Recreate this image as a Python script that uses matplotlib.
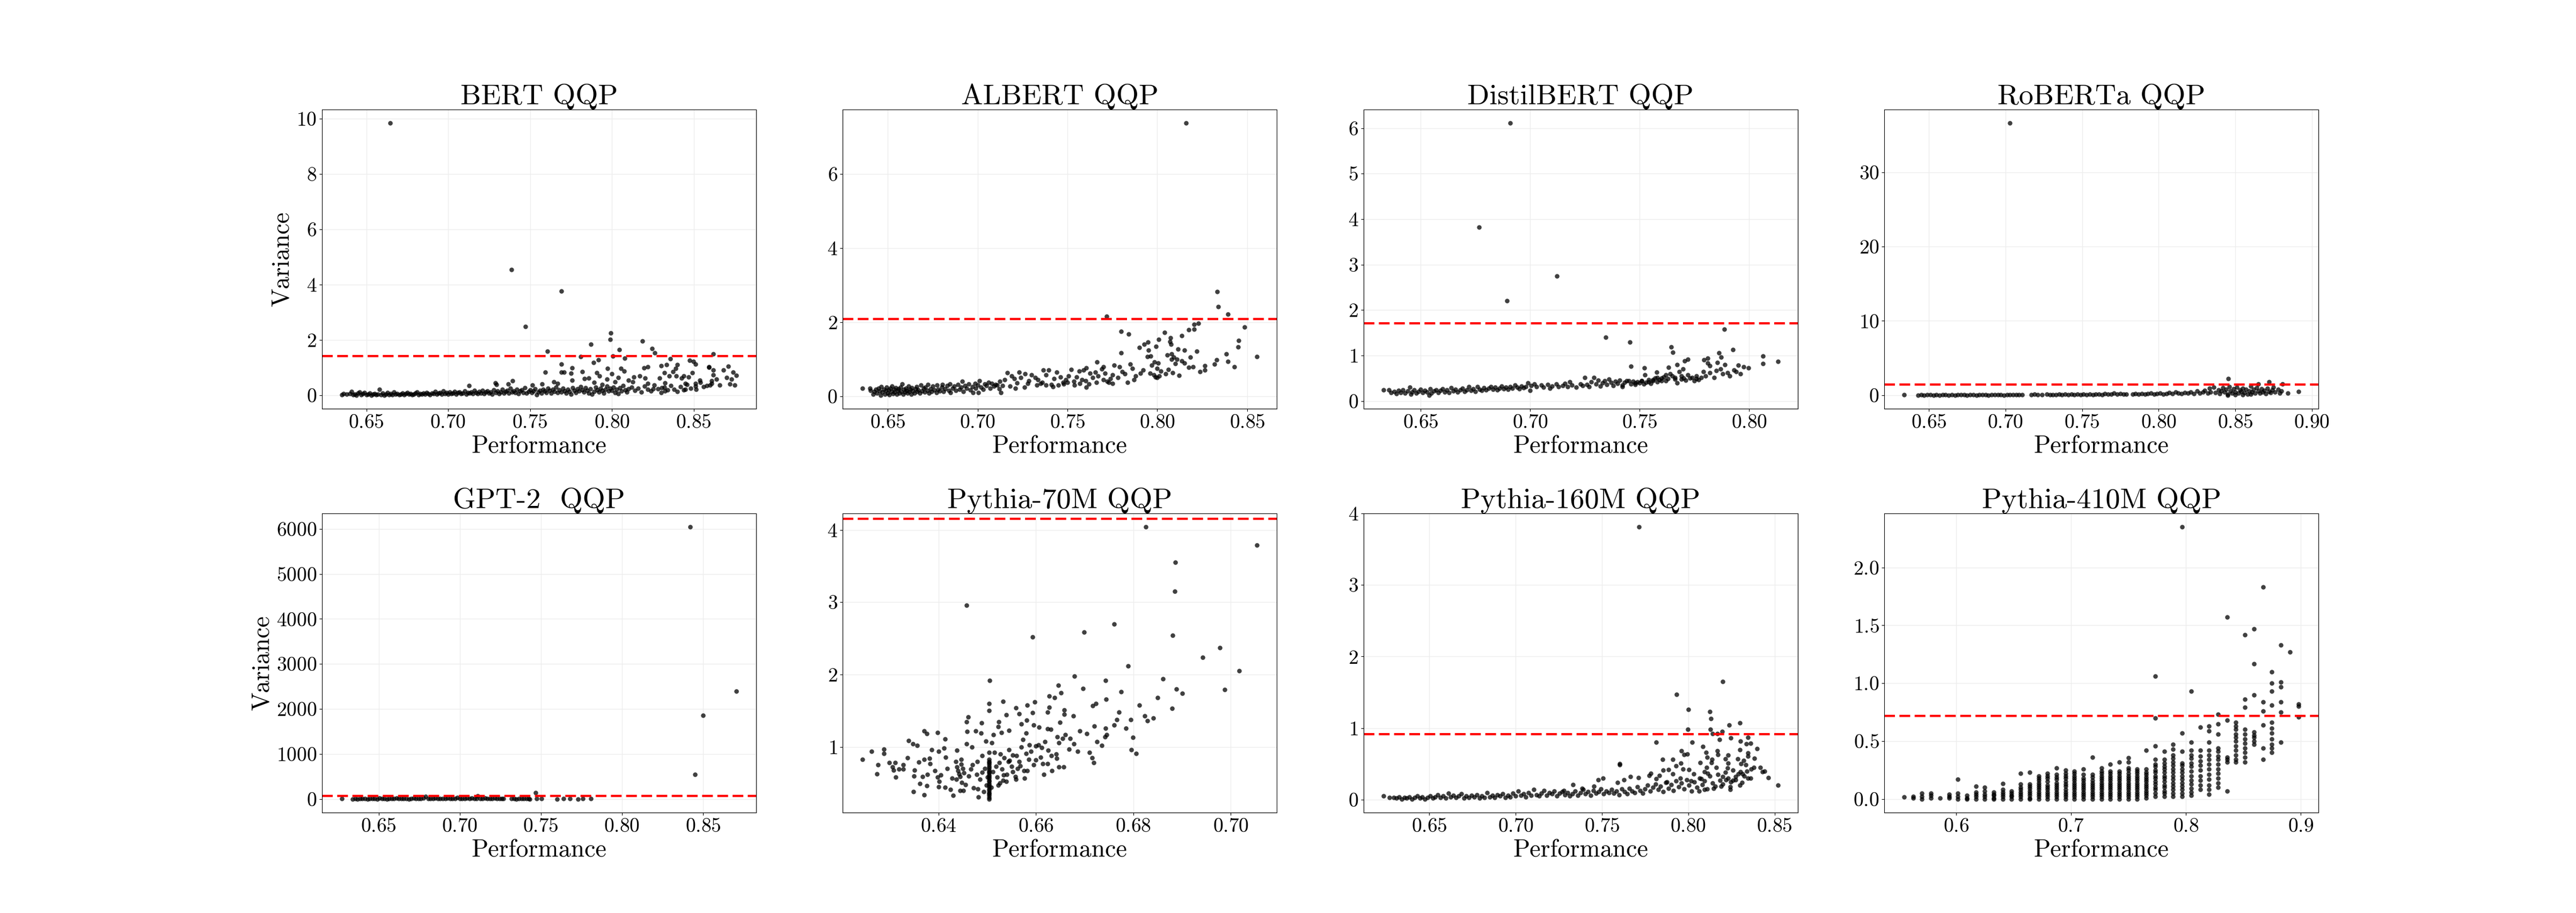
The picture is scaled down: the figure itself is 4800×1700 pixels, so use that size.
import matplotlib.pyplot as plt

plt.rcParams['font.family'] = 'cmr10'
plt.rcParams['mathtext.fontset'] = 'cm'
plt.rcParams['axes.formatter.use_mathtext'] = True

titles = ["BERT QQP", "ALBERT QQP", "DistilBERT QQP", "RoBERTa QQP",
          "GPT-2  QQP", "Pythia-70M QQP", "Pythia-160M QQP", "Pythia-410M QQP"]

# red dashed threshold per panel
thresholds = [1.42, 2.09, 1.71, 1.43, 70, 4.15, 0.916, 0.72]

# (performance, variance)
bert_pts = [
    (0.6645, 9.83), (0.7387, 4.54), (0.7693, 3.76), (0.7472, 2.48), (0.7993, 2.25), (0.7990, 2.03),
    (0.8188, 1.96), (0.7871, 1.84), (0.8245, 1.69), (0.8263, 1.54), (0.7605, 1.59), (0.8046, 1.65),
    (0.8620, 1.50), (0.7810, 1.40), (0.8007, 1.42), (0.7918, 1.28), (0.7887, 1.18), (0.8078, 1.34),
    (0.8356, 1.32), (0.8474, 1.27), (0.8497, 1.22), (0.8510, 1.13), (0.7693, 1.12), (0.8593, 1.04),
    (0.8712, 1.06), (0.7758, 0.99),
    (0.8196, 1.00), (0.8219, 1.04), (0.8300, 1.08), (0.8333, 1.11), (0.8399, 1.10), (0.8390, 0.97),
    (0.8374, 0.85), (0.8394, 0.70), (0.8440, 0.70), (0.8493, 0.81), (0.8592, 1.02), (0.8619, 0.91),
    (0.8620, 0.74), (0.8610, 0.53), (0.8600, 0.37), (0.8538, 0.55), (0.8510, 0.43), (0.8513, 0.22),
    (0.8559, 0.31), (0.8450, 0.43), (0.8450, 0.22), (0.8470, 0.67), (0.8426, 0.62), (0.8350, 0.70),
    (0.8320, 0.81), (0.8292, 0.62), (0.8325, 0.45), (0.8304, 0.28), (0.8325, 0.16), (0.8251, 0.24),
    (0.8219, 0.43), (0.8203, 0.62), (0.8170, 0.70), (0.8134, 0.66), (0.8129, 0.48), (0.8100, 0.55),
    (0.8075, 0.87), (0.8056, 0.97), (0.8039, 0.64), (0.8020, 0.48), (0.8000, 0.78), (0.7974, 0.97),
    (0.7970, 0.58), (0.7941, 0.39), (0.7909, 0.81), (0.7925, 0.70), (0.7890, 0.47), (0.7860, 0.62),
    (0.7833, 0.60), (0.7820, 0.85), (0.7750, 0.80), (0.7709, 0.84), (0.7693, 0.84), (0.7758, 0.54),
    (0.7592, 0.84), (0.7647, 0.48), (0.7667, 0.43), (0.7574, 0.41), (0.7516, 0.37), (0.7394, 0.53),
    (0.7366, 0.41), (0.7296, 0.39), (0.7288, 0.45), (0.7129, 0.35),
    (0.635, 0.03), (0.636, 0.06), (0.638, 0.04), (0.640, 0.07), (0.641, 0.14), (0.642, 0.02),
    (0.643, 0.05), (0.644, 0.01), (0.645, 0.08), (0.646, 0.13), (0.647, 0.03), (0.648, 0.06),
    (0.649, 0.11), (0.650, 0.02), (0.651, 0.05), (0.652, 0.09), (0.653, 0.01), (0.654, 0.04),
    (0.655, 0.07), (0.656, 0.02), (0.657, 0.05), (0.658, 0.21), (0.659, 0.03), (0.660, 0.08),
    (0.661, 0.01), (0.662, 0.05), (0.663, 0.10), (0.664, 0.03), (0.665, 0.06), (0.666, 0.02),
    (0.667, 0.12), (0.668, 0.04), (0.669, 0.07), (0.670, 0.02), (0.671, 0.05), (0.672, 0.09),
    (0.673, 0.03), (0.674, 0.06), (0.675, 0.11), (0.676, 0.04), (0.677, 0.07), (0.678, 0.02),
    (0.679, 0.05), (0.680, 0.08), (0.681, 0.13), (0.682, 0.03), (0.683, 0.06), (0.684, 0.04),
    (0.685, 0.09), (0.686, 0.05), (0.687, 0.11), (0.688, 0.07), (0.689, 0.03), (0.690, 0.09),
    (0.691, 0.06), (0.692, 0.14), (0.693, 0.04), (0.694, 0.08), (0.695, 0.11), (0.696, 0.05),
    (0.697, 0.15), (0.698, 0.07), (0.699, 0.10), (0.700, 0.04), (0.701, 0.12), (0.702, 0.07),
    (0.703, 0.09), (0.704, 0.14), (0.705, 0.05), (0.706, 0.10), (0.707, 0.13), (0.708, 0.06),
    (0.709, 0.09), (0.710, 0.15), (0.711, 0.04), (0.712, 0.11), (0.713, 0.08), (0.714, 0.13),
    (0.715, 0.06), (0.716, 0.17), (0.717, 0.10), (0.718, 0.07), (0.719, 0.14), (0.720, 0.09),
    (0.721, 0.18), (0.722, 0.06), (0.723, 0.12), (0.724, 0.16), (0.725, 0.08), (0.726, 0.13),
    (0.727, 0.05), (0.728, 0.19), (0.729, 0.10), (0.730, 0.15), (0.731, 0.07), (0.732, 0.12),
    (0.733, 0.21), (0.734, 0.09), (0.735, 0.14), (0.736, 0.18), (0.737, 0.08), (0.738, 0.25),
    (0.739, 0.12), (0.740, 0.16), (0.741, 0.10), (0.742, 0.22), (0.743, 0.07), (0.744, 0.15),
    (0.745, 0.19), (0.746, 0.11), (0.747, 0.27), (0.748, 0.08), (0.749, 0.14), (0.750, 0.20),
    (0.751, 0.10), (0.752, 0.16), (0.753, 0.24), (0.754, 0.03), (0.755, 0.13), (0.756, 0.18),
    (0.757, 0.09), (0.758, 0.22), (0.759, 0.15), (0.760, 0.11), (0.761, 0.26), (0.762, 0.17),
    (0.763, 0.08), (0.764, 0.21), (0.765, 0.14), (0.766, 0.30), (0.767, 0.10), (0.768, 0.19),
    (0.769, 0.13), (0.770, 0.25), (0.771, 0.16), (0.772, 0.09), (0.773, 0.22), (0.774, 0.14),
    (0.775, 0.05), (0.776, 0.28), (0.777, 0.18), (0.778, 0.11), (0.779, 0.24), (0.780, 0.15),
    (0.781, 0.32), (0.782, 0.20), (0.783, 0.12), (0.784, 0.27), (0.785, 0.17), (0.786, 0.09),
    (0.787, 0.23), (0.788, 0.05), (0.789, 0.14), (0.790, 0.30), (0.791, 0.19), (0.792, 0.12),
    (0.793, 0.26), (0.794, 0.17), (0.795, 0.08), (0.796, 0.22), (0.797, 0.33), (0.798, 0.15),
    (0.799, 0.25), (0.800, 0.18), (0.801, 0.29), (0.802, 0.11), (0.803, 0.22), (0.804, 0.06),
    (0.805, 0.27), (0.806, 0.16), (0.807, 0.35), (0.808, 0.20), (0.809, 0.13), (0.810, 0.24),
    (0.812, 0.30), (0.814, 0.18), (0.816, 0.26), (0.818, 0.12), (0.820, 0.33), (0.822, 0.21),
    (0.824, 0.15), (0.826, 0.38), (0.828, 0.24), (0.830, 0.10), (0.832, 0.29), (0.834, 0.19),
    (0.836, 0.35), (0.838, 0.22), (0.840, 0.14), (0.842, 0.31), (0.844, 0.20), (0.846, 0.40),
    (0.848, 0.26), (0.851, 0.33), (0.854, 0.47), (0.858, 0.36), (0.861, 0.44), (0.864, 0.58),
    (0.866, 0.38), (0.868, 0.92), (0.870, 0.65), (0.872, 0.42), (0.873, 0.58), (0.874, 0.84),
    (0.875, 0.38), (0.876, 0.72),
]

albert_pts = [
    (0.8159, 7.37), (0.8334, 2.83), (0.8340, 2.42), (0.8393, 2.22), (0.7718, 2.15), (0.8485, 1.87),
    (0.8227, 1.97), (0.8204, 1.94), (0.8174, 1.79), (0.8204, 1.81), (0.7800, 1.75), (0.7839, 1.68),
    (0.8040, 1.72), (0.8135, 1.63), (0.8009, 1.54), (0.8073, 1.57), (0.7948, 1.46), (0.7927, 1.40),
    (0.8451, 1.50), (0.8450, 1.33), (0.7899, 1.31), (0.7994, 1.35), (0.8076, 1.40), (0.8071, 1.47),
    (0.7951, 1.25), (0.8114, 1.27), (0.8150, 1.24), (0.8220, 1.21), (0.7800, 1.17), (0.8385, 1.14),
    (0.7946, 1.07), (0.7962, 1.09), (0.8555, 1.07), (0.8054, 1.11), (0.8080, 1.14), (0.8090, 1.05),
    (0.8080, 1.00), (0.8393, 0.94), (0.8330, 0.98), (0.8317, 0.87), (0.8429, 0.80), (0.8263, 0.82),
    (0.8237, 0.67), (0.8264, 0.71), (0.7665, 0.93),
    (0.8185, 1.05), (0.8200, 0.80), (0.8175, 0.78), (0.8150, 0.90), (0.8135, 0.96), (0.8110, 1.00),
    (0.8100, 0.88), (0.8060, 0.72), (0.8045, 0.60), (0.8020, 0.68), (0.8000, 0.75), (0.8005, 0.90),
    (0.7985, 0.93), (0.7970, 0.84), (0.7980, 0.57), (0.7990, 0.52), (0.8010, 0.55), (0.8085, 0.63),
    (0.8120, 0.56), (0.8000, 0.50), (0.7960, 0.62), (0.7920, 0.70), (0.7905, 0.62), (0.7880, 0.55),
    (0.7860, 0.75), (0.7850, 0.86), (0.7870, 0.45), (0.7835, 0.38), (0.7820, 0.60), (0.7805, 0.66),
    (0.7790, 0.80), (0.7760, 0.84), (0.7750, 0.58), (0.7740, 0.48), (0.7730, 0.38), (0.7710, 0.62),
    (0.7700, 0.79), (0.7690, 0.74), (0.7670, 0.55), (0.7655, 0.65), (0.7640, 0.50), (0.7625, 0.62),
    (0.7605, 0.76), (0.7605, 0.25), (0.7590, 0.71), (0.7580, 0.45), (0.7565, 0.68), (0.7550, 0.52),
    (0.7535, 0.40), (0.7520, 0.72), (0.7505, 0.55), (0.7490, 0.44), (0.7475, 0.38), (0.7460, 0.52),
    (0.7440, 0.65), (0.7425, 0.48), (0.7410, 0.32), (0.7395, 0.70), (0.7380, 0.58), (0.7365, 0.70),
    (0.7350, 0.35), (0.7335, 0.44), (0.7320, 0.50), (0.7300, 0.58), (0.7285, 0.42), (0.7265, 0.60),
    (0.7240, 0.50), (0.7230, 0.65), (0.7220, 0.36), (0.7205, 0.48), (0.7190, 0.55), (0.7165, 0.64),
    (0.7150, 0.45), (0.7140, 0.28), (0.7130, 0.10), (0.7125, 0.40), (0.7100, 0.32),
    (0.6360, 0.21), (0.6400, 0.22), (0.6405, 0.16), (0.6420, 0.05), (0.6425, 0.12), (0.6435, 0.18),
    (0.6440, 0.08), (0.6450, 0.22), (0.6455, 0.14), (0.6460, 0.03), (0.6465, 0.26), (0.6470, 0.11),
    (0.6480, 0.19), (0.6485, 0.06), (0.6490, 0.15), (0.6495, 0.24), (0.6500, 0.09), (0.6505, 0.17),
    (0.6510, 0.04), (0.6515, 0.21), (0.6520, 0.13), (0.6525, 0.27), (0.6530, 0.07), (0.6535, 0.18),
    (0.6540, 0.11), (0.6545, 0.23), (0.6550, 0.05), (0.6555, 0.15), (0.6560, 0.20), (0.6565, 0.09),
    (0.6570, 0.25), (0.6575, 0.13), (0.6580, 0.33), (0.6585, 0.06), (0.6590, 0.18), (0.6595, 0.11),
    (0.6600, 0.22), (0.6605, 0.15), (0.6610, 0.08), (0.6615, 0.27), (0.6620, 0.12), (0.6625, 0.19),
    (0.6630, 0.05), (0.6635, 0.23), (0.6640, 0.14), (0.6650, 0.09), (0.6655, 0.20), (0.6660, 0.26),
    (0.6665, 0.12), (0.6670, 0.17), (0.6680, 0.08), (0.6685, 0.30), (0.6690, 0.14), (0.6700, 0.21),
    (0.6705, 0.11), (0.6710, 0.25), (0.6720, 0.16), (0.6725, 0.32), (0.6730, 0.09), (0.6740, 0.20),
    (0.6745, 0.13), (0.6750, 0.27), (0.6760, 0.17), (0.6770, 0.10), (0.6775, 0.30), (0.6780, 0.19),
    (0.6790, 0.14), (0.6800, 0.24), (0.6805, 0.31), (0.6810, 0.12), (0.6820, 0.20), (0.6830, 0.28),
    (0.6840, 0.16), (0.6845, 0.33), (0.6850, 0.10), (0.6860, 0.22), (0.6870, 0.27), (0.6880, 0.15),
    (0.6890, 0.31), (0.6900, 0.19), (0.6910, 0.24), (0.6915, 0.40), (0.6920, 0.13), (0.6930, 0.28),
    (0.6940, 0.21), (0.6950, 0.33), (0.6960, 0.17), (0.6970, 0.26), (0.6975, 0.10), (0.6985, 0.35),
    (0.6990, 0.22), (0.7000, 0.30), (0.7005, 0.10), (0.7010, 0.42), (0.7020, 0.25), (0.7030, 0.18),
    (0.7040, 0.33), (0.7050, 0.28), (0.7060, 0.38), (0.7070, 0.22), (0.7080, 0.35), (0.7090, 0.27),
    (0.7110, 0.30), (0.7120, 0.20),
    (0.7450, 0.30), (0.7480, 0.33), (0.7500, 0.38), (0.7540, 0.30), (0.7570, 0.35), (0.7600, 0.42),
    (0.7620, 0.33), (0.7660, 0.38), (0.7700, 0.45), (0.7720, 0.40), (0.7750, 0.35), (0.7780, 0.50),
    (0.7420, 0.26), (0.7380, 0.30), (0.7360, 0.38), (0.7330, 0.30), (0.7280, 0.34), (0.7260, 0.25),
    (0.7210, 0.22), (0.7180, 0.27),
]

distil_pts = [
    (0.6910, 6.11), (0.6768, 3.82), (0.7123, 2.75), (0.6895, 2.21), (0.7886, 1.58), (0.7344, 1.40),
    (0.7455, 1.29), (0.7644, 1.19), (0.7652, 1.07), (0.7925, 1.13), (0.8062, 0.99), (0.8062, 0.82),
    (0.8131, 0.87), (0.7862, 1.06), (0.7873, 0.97), (0.7793, 0.90), (0.7810, 0.94), (0.7810, 0.84),
    (0.7820, 0.78), (0.7720, 0.92), (0.7705, 0.88), (0.7855, 0.85), (0.7890, 0.80), (0.7950, 0.79),
    (0.7975, 0.75), (0.7997, 0.73), (0.7460, 0.76), (0.7521, 0.73), (0.7632, 0.74), (0.7670, 0.80),
    (0.7698, 0.70), (0.7525, 0.58), (0.7577, 0.63),
    (0.7600, 0.50), (0.7620, 0.58), (0.7640, 0.60), (0.7660, 0.48), (0.7680, 0.65), (0.7690, 0.55),
    (0.7700, 0.50), (0.7720, 0.58), (0.7740, 0.52), (0.7760, 0.55), (0.7770, 0.47), (0.7790, 0.65),
    (0.7800, 0.55), (0.7820, 0.62), (0.7840, 0.52), (0.7850, 0.67), (0.7870, 0.70), (0.7880, 0.60),
    (0.7900, 0.62), (0.7910, 0.55), (0.7930, 0.68), (0.7940, 0.65), (0.7960, 0.60), (0.7670, 0.40),
    (0.7750, 0.45), (0.7620, 0.45), (0.7580, 0.52), (0.7560, 0.47), (0.7540, 0.42), (0.7510, 0.45),
    (0.7480, 0.40), (0.7440, 0.45), (0.7420, 0.35),
    (0.6330, 0.25), (0.6355, 0.24), (0.6365, 0.18), (0.6380, 0.21), (0.6390, 0.16), (0.6400, 0.23),
    (0.6410, 0.19), (0.6420, 0.25), (0.6430, 0.17), (0.6440, 0.22), (0.6450, 0.30), (0.6455, 0.15),
    (0.6460, 0.20), (0.6470, 0.24), (0.6480, 0.17), (0.6490, 0.21), (0.6500, 0.26), (0.6510, 0.18),
    (0.6520, 0.23), (0.6530, 0.20), (0.6540, 0.13), (0.6545, 0.27), (0.6550, 0.17), (0.6560, 0.22),
    (0.6570, 0.25), (0.6580, 0.19), (0.6590, 0.23), (0.6600, 0.27), (0.6610, 0.20), (0.6620, 0.24),
    (0.6630, 0.18), (0.6640, 0.29), (0.6650, 0.22), (0.6660, 0.26), (0.6670, 0.20), (0.6680, 0.24),
    (0.6690, 0.28), (0.6700, 0.21), (0.6710, 0.25), (0.6720, 0.31), (0.6730, 0.23), (0.6740, 0.27),
    (0.6750, 0.21), (0.6760, 0.31), (0.6770, 0.26), (0.6780, 0.23), (0.6790, 0.29), (0.6800, 0.25),
    (0.6810, 0.28), (0.6820, 0.32), (0.6830, 0.26), (0.6840, 0.30), (0.6850, 0.24), (0.6860, 0.28),
    (0.6870, 0.33), (0.6880, 0.27), (0.6890, 0.30), (0.6900, 0.26), (0.6910, 0.32), (0.6920, 0.28),
    (0.6930, 0.35), (0.6940, 0.30), (0.6950, 0.27), (0.6960, 0.33), (0.6970, 0.29), (0.6980, 0.31),
    (0.6990, 0.40), (0.7000, 0.23), (0.7005, 0.34), (0.7020, 0.38), (0.7030, 0.31), (0.7050, 0.35),
    (0.7060, 0.30), (0.7080, 0.36), (0.7090, 0.28), (0.7100, 0.33), (0.7120, 0.37), (0.7130, 0.31),
    (0.7150, 0.34), (0.7160, 0.39), (0.7170, 0.32), (0.7180, 0.42), (0.7190, 0.35), (0.7210, 0.30),
    (0.7230, 0.38), (0.7240, 0.34), (0.7250, 0.52), (0.7260, 0.36), (0.7270, 0.31), (0.7280, 0.42),
    (0.7290, 0.52), (0.7300, 0.37), (0.7310, 0.46), (0.7320, 0.33), (0.7330, 0.40), (0.7340, 0.44),
    (0.7350, 0.36), (0.7360, 0.48), (0.7370, 0.41), (0.7380, 0.34), (0.7390, 0.43), (0.7400, 0.39),
    (0.7410, 0.46), (0.7420, 0.32), (0.7430, 0.41), (0.7450, 0.45), (0.7460, 0.38), (0.7470, 0.43),
    (0.7480, 0.36), (0.7490, 0.42), (0.7500, 0.40), (0.7510, 0.44), (0.7520, 0.37), (0.7530, 0.41),
    (0.7540, 0.47), (0.7550, 0.39), (0.7560, 0.44), (0.7570, 0.50), (0.7580, 0.42), (0.7590, 0.47),
    (0.7600, 0.45), (0.7610, 0.53), (0.7630, 0.49), (0.7650, 0.55), (0.7660, 0.52), (0.7690, 0.48),
    (0.7710, 0.46), (0.7730, 0.50), (0.7760, 0.49), (0.7780, 0.52),
]

roberta_pts = [
    (0.6339, 0.05), (0.7030, 36.6), (0.8455, 2.26), (0.8722, 1.83), (0.8808, 1.51), (0.8650, 1.50),
    (0.8914, 0.49), (0.8844, 0.31),
    (0.6430, 0.02), (0.6450, 0.05), (0.6470, 0.01), (0.6490, 0.03), (0.6510, 0.06), (0.6530, 0.02),
    (0.6550, 0.04), (0.6570, 0.01), (0.6590, 0.05), (0.6610, 0.03), (0.6630, 0.02), (0.6650, 0.06),
    (0.6670, 0.01), (0.6690, 0.04), (0.6710, 0.03), (0.6730, 0.05), (0.6750, 0.02), (0.6770, 0.04),
    (0.6790, 0.07), (0.6810, 0.02), (0.6830, 0.05), (0.6850, 0.03), (0.6870, 0.06), (0.6890, 0.02),
    (0.6910, 0.04), (0.6930, 0.08), (0.6950, 0.03), (0.6970, 0.05), (0.6990, 0.02), (0.7010, 0.06),
    (0.7030, 0.04), (0.7050, 0.07), (0.7070, 0.03), (0.7090, 0.05), (0.7110, 0.08),
    (0.7170, 0.06), (0.7190, 0.10), (0.7210, 0.05), (0.7240, 0.08), (0.7270, 0.12), (0.7290, 0.06),
    (0.7310, 0.09), (0.7330, 0.05), (0.7350, 0.11), (0.7370, 0.07), (0.7390, 0.10), (0.7410, 0.06),
    (0.7430, 0.13), (0.7450, 0.08), (0.7470, 0.11), (0.7490, 0.05), (0.7510, 0.14), (0.7530, 0.09),
    (0.7550, 0.12), (0.7570, 0.07), (0.7590, 0.15), (0.7610, 0.10), (0.7630, 0.08), (0.7650, 0.17),
    (0.7670, 0.11), (0.7690, 0.14), (0.7710, 0.30), (0.7730, 0.12), (0.7750, 0.18), (0.7770, 0.10),
    (0.7790, 0.16), (0.7830, 0.12), (0.7850, 0.20), (0.7870, 0.14), (0.7890, 0.22), (0.7910, 0.11),
    (0.7930, 0.18), (0.7950, 0.25), (0.7970, 0.15), (0.7990, 0.20), (0.8010, 0.28), (0.8030, 0.14),
    (0.8050, 0.24), (0.8070, 0.33), (0.8090, 0.18), (0.8110, 0.42), (0.8130, 0.26), (0.8150, 0.20),
    (0.8170, 0.35), (0.8190, 0.28), (0.8210, 0.45), (0.8230, 0.22), (0.8250, 0.55), (0.8270, 0.30),
    (0.8290, 0.40), (0.8300, 0.65), (0.8320, 0.25), (0.8330, 0.90), (0.8340, 0.45), (0.8360, 1.05),
    (0.8370, 0.35), (0.8390, 0.70), (0.8400, 0.20), (0.8410, 0.55), (0.8420, 1.00), (0.8430, 0.40),
    (0.8440, 0.75), (0.8450, 0.15), (0.8460, 1.15), (0.8470, 0.60), (0.8480, 0.30), (0.8490, 0.85),
    (0.8500, 0.45), (0.8510, 1.10), (0.8520, 0.25), (0.8530, 0.70), (0.8540, 0.50), (0.8550, 0.95),
    (0.8560, 0.35), (0.8570, 0.80), (0.8580, 0.15), (0.8590, 0.60), (0.8600, 1.20), (0.8610, 0.40),
    (0.8620, 0.75), (0.8630, 0.25), (0.8640, 1.00), (0.8650, 0.55), (0.8660, 0.30), (0.8670, 0.85),
    (0.8680, 0.45), (0.8690, 0.65), (0.8700, 0.20), (0.8710, 0.95), (0.8720, 0.50), (0.8730, 0.35),
    (0.8740, 0.70), (0.8750, 1.05), (0.8760, 0.40), (0.8780, 0.80), (0.8790, 0.30), (0.8800, 0.55),
    (0.8600, 0.10), (0.8550, 0.05), (0.8500, 0.08), (0.8450, 0.02),
]

gpt2_pts = [
    (0.8419, 6040), (0.8705, 2390), (0.8500, 1855), (0.8452, 545), (0.7468, 142), (0.6272, 5),
    (0.6340, 4), (0.6355, 8), (0.6370, 2), (0.6385, 12), (0.6400, 5), (0.6415, 9), (0.6430, 3),
    (0.6445, 15), (0.6460, 6), (0.6475, 10), (0.6490, 4), (0.6505, 18), (0.6520, 7), (0.6535, 11),
    (0.6550, 3), (0.6565, 14), (0.6580, 6), (0.6595, 9), (0.6610, 20), (0.6625, 5), (0.6640, 12),
    (0.6655, 8), (0.6670, 16), (0.6685, 4), (0.6700, 10), (0.6715, 22), (0.6730, 7), (0.6745, 13),
    (0.6760, 5), (0.6775, 18), (0.6790, 60), (0.6805, 9), (0.6820, 14), (0.6835, 6), (0.6850, 25),
    (0.6865, 11), (0.6880, 8), (0.6895, 16), (0.6910, 5), (0.6925, 20), (0.6940, 10), (0.6955, 7),
    (0.6970, 14), (0.6985, 30), (0.7000, 9), (0.7015, 12), (0.7030, 6), (0.7045, 18), (0.7060, 10),
    (0.7075, 25), (0.7090, 8), (0.7105, 15), (0.7110, 70), (0.7125, 11), (0.7140, 6), (0.7155, 19),
    (0.7170, 9), (0.7185, 14), (0.7200, 7), (0.7215, 20), (0.7230, 10), (0.7245, 5), (0.7260, 12),
    (0.7270, 8), (0.7320, 6), (0.7335, 10), (0.7350, 4), (0.7365, 12), (0.7380, 7), (0.7395, 9),
    (0.7410, 5), (0.7425, 11), (0.7430, 3), (0.7475, 5), (0.7505, 6), (0.7600, 4), (0.7640, 5),
    (0.7680, 6), (0.7730, 4), (0.7760, 15), (0.7810, 12),
]

pythia70_pts = [
    (0.6826, 4.04), (0.7054, 3.79), (0.6886, 3.55), (0.6885, 3.15), (0.6458, 2.96), (0.6760, 2.70),
    (0.6699, 2.59), (0.6593, 2.52), (0.6881, 2.54), (0.6978, 2.37), (0.6942, 2.24), (0.6789, 2.12),
    (0.7017, 2.05), (0.6679, 1.98), (0.6861, 1.94), (0.6743, 1.92), (0.6505, 1.92), (0.6697, 1.81),
    (0.6888, 1.80), (0.6987, 1.79), (0.6646, 1.85), (0.6775, 1.76), (0.6651, 1.75), (0.6900, 1.74),
    (0.6627, 1.70), (0.6638, 1.68), (0.6744, 1.66), (0.6533, 1.63), (0.6598, 1.62), (0.6723, 1.60),
    (0.6716, 1.57), (0.6504, 1.60), (0.6559, 1.54), (0.6627, 1.55), (0.6879, 1.53), (0.6658, 1.51),
    (0.6504, 1.50), (0.6770, 1.48), (0.6582, 1.58), (0.6565, 1.46), (0.6593, 1.47), (0.6624, 1.48),
    (0.6658, 1.45), (0.6539, 1.44), (0.6677, 1.43), (0.6823, 1.43), (0.6841, 1.40), (0.6829, 1.36),
    (0.6461, 1.41), (0.6458, 1.35), (0.6766, 1.38), (0.6795, 1.38), (0.6524, 1.35), (0.6581, 1.37),
    (0.6649, 1.34), (0.6570, 1.32), (0.6488, 1.33), (0.6720, 1.29), (0.6743, 1.26), (0.6785, 1.26),
    (0.6522, 1.28), (0.6595, 1.30), (0.6606, 1.27), (0.6624, 1.25), (0.6630, 1.24), (0.6545, 1.23),
    (0.6371, 1.22), (0.6398, 1.20), (0.6459, 1.21), (0.6476, 1.22), (0.6529, 1.20), (0.6580, 1.19),
    (0.6376, 1.18), (0.6487, 1.19), (0.6513, 1.17), (0.6704, 1.18), (0.6660, 1.17), (0.6745, 1.17),
    (0.6644, 1.14), (0.6742, 1.14), (0.6670, 1.12), (0.6799, 1.13), (0.6414, 1.11), (0.6338, 1.09),
    (0.6725, 1.07), (0.6497, 1.08), (0.6573, 1.10), (0.6618, 1.07), (0.6647, 1.06), (0.6347, 1.04),
    (0.6356, 1.02), (0.6457, 1.04), (0.6678, 1.04), (0.6509, 1.06), (0.6586, 1.03), (0.6600, 1.01),
    (0.6612, 0.99), (0.6469, 1.00), (0.6411, 0.98), (0.6288, 0.97), (0.6386, 0.96), (0.6438, 0.95),
    (0.6796, 0.96), (0.6263, 0.94), (0.6288, 0.91), (0.6686, 0.94), (0.6710, 0.92), (0.6806, 0.91),
    (0.6400, 0.94), (0.6504, 0.92), (0.6527, 0.90), (0.6552, 0.89), (0.6642, 0.90), (0.6336, 0.85),
    (0.6244, 0.83), (0.6370, 0.83), (0.6381, 0.84), (0.6415, 0.86), (0.6447, 0.83), (0.6715, 0.85),
    (0.6643, 0.84), (0.6546, 0.81), (0.6360, 0.79), (0.6383, 0.77), (0.6299, 0.78), (0.6311, 0.78),
    (0.6327, 0.75), (0.6276, 0.75), (0.6719, 0.78), (0.6614, 0.77), (0.6624, 0.77), (0.6647, 0.72),
    (0.6657, 0.72), (0.6306, 0.72), (0.6319, 0.69), (0.6327, 0.69), (0.6351, 0.68), (0.6308, 0.68),
    (0.6393, 0.67), (0.6633, 0.67), (0.6582, 0.67), (0.6562, 0.70), (0.6273, 0.63), (0.6312, 0.58),
    (0.6350, 0.60), (0.6367, 0.59), (0.6377, 0.62), (0.6398, 0.58), (0.6616, 0.62), (0.6559, 0.55),
    (0.6576, 0.57), (0.6362, 0.49), (0.6376, 0.46), (0.6349, 0.38), (0.6370, 0.34), (0.6430, 0.33),
    (0.6482, 0.31), (0.6401, 0.52), (0.6400, 0.45), (0.6413, 0.44), (0.6424, 0.41), (0.6444, 0.40),
    (0.6451, 0.40), (0.6481, 0.42), (0.6522, 0.47), (0.6539, 0.52), (0.6532, 0.54),
    (0.6504, 0.28), (0.6504, 0.30), (0.6504, 0.33), (0.6504, 0.35), (0.6504, 0.37), (0.6504, 0.40),
    (0.6504, 0.42), (0.6504, 0.45), (0.6504, 0.47), (0.6504, 0.49), (0.6504, 0.52), (0.6504, 0.54),
    (0.6504, 0.57), (0.6504, 0.59), (0.6504, 0.61), (0.6504, 0.64), (0.6504, 0.66), (0.6504, 0.68),
    (0.6504, 0.71), (0.6504, 0.73), (0.6504, 0.76), (0.6504, 0.78), (0.6504, 0.80), (0.6504, 0.83),
    (0.6438, 0.72), (0.6440, 0.67), (0.6442, 0.63), (0.6444, 0.59), (0.6437, 0.55), (0.6446, 0.76),
    (0.6450, 0.70), (0.6448, 0.51), (0.6435, 0.80), (0.6452, 0.64),
    (0.6470, 0.75), (0.6478, 0.62), (0.6485, 0.55), (0.6490, 0.88), (0.6495, 0.70), (0.6498, 0.47),
    (0.6512, 0.66), (0.6515, 0.92), (0.6520, 0.58), (0.6525, 0.78), (0.6530, 0.69), (0.6535, 0.85),
    (0.6540, 0.62), (0.6545, 0.96), (0.6550, 0.73), (0.6560, 0.88), (0.6565, 0.80), (0.6570, 1.00),
    (0.6575, 0.67), (0.6585, 0.83), (0.6590, 0.94), (0.6595, 0.75), (0.6605, 1.03), (0.6610, 0.86),
    (0.6405, 0.61), (0.6418, 0.70), (0.6428, 0.57), (0.6455, 0.48), (0.6462, 0.60), (0.6466, 0.69),
    (0.6472, 0.43), (0.6480, 0.80), (0.6489, 0.65), (0.6493, 0.38), (0.6501, 0.58), (0.6508, 0.44),
    (0.6518, 0.73), (0.6526, 0.50), (0.6534, 0.61), (0.6543, 0.80), (0.6552, 0.66), (0.6558, 0.59),
    (0.6568, 0.74), (0.6580, 0.91), (0.6600, 0.82), (0.6625, 0.95), (0.6632, 0.88), (0.6655, 1.12),
    (0.6668, 0.97), (0.6690, 1.22), (0.6735, 1.02), (0.6760, 1.30), (0.6812, 1.58), (0.6850, 1.68),
]

pythia160_pts = [
    (0.7714, 3.81), (0.8200, 1.65), (0.7931, 1.47), (0.8002, 1.26), (0.8125, 1.23), (0.8131, 1.13),
    (0.8300, 1.07), (0.8236, 1.04), (0.7997, 0.98), (0.8128, 0.98), (0.8195, 0.95), (0.8141, 0.92),
    (0.8168, 0.92), (0.8344, 0.87), (0.8246, 0.86), (0.8180, 0.84), (0.8302, 0.82), (0.8022, 0.80),
    (0.7813, 0.80), (0.8337, 0.78), (0.8362, 0.79), (0.8085, 0.74), (0.8399, 0.71), (0.8300, 0.70),
    (0.8168, 0.68), (0.7961, 0.68), (0.8104, 0.66), (0.8347, 0.65), (0.7976, 0.63), (0.7993, 0.64),
    (0.8171, 0.63), (0.8232, 0.62), (0.8345, 0.61), (0.8109, 0.59), (0.8215, 0.57), (0.7850, 0.56),
    (0.7911, 0.56), (0.8288, 0.57), (0.8384, 0.58), (0.8136, 0.56), (0.8320, 0.55), (0.7958, 0.51),
    (0.8068, 0.52), (0.8135, 0.52), (0.8229, 0.51), (0.7603, 0.49), (0.7603, 0.50), (0.8305, 0.50),
    (0.8333, 0.49), (0.7929, 0.47), (0.8417, 0.45), (0.8162, 0.45), (0.8106, 0.45), (0.8226, 0.44),
    (0.8364, 0.43), (0.7968, 0.43), (0.7884, 0.42), (0.7855, 0.41), (0.8005, 0.42), (0.8431, 0.39),
    (0.8443, 0.40), (0.8302, 0.39), (0.8093, 0.39), (0.7783, 0.37), (0.8031, 0.36), (0.8112, 0.37),
    (0.8315, 0.36), (0.7911, 0.36), (0.8465, 0.31), (0.8275, 0.32), (0.8199, 0.32), (0.7832, 0.34),
    (0.7775, 0.34), (0.7813, 0.29), (0.7954, 0.30), (0.7710, 0.31), (0.7665, 0.32), (0.7507, 0.30),
    (0.7478, 0.28), (0.7628, 0.28), (0.7589, 0.24), (0.8344, 0.30), (0.8075, 0.29), (0.8218, 0.28),
    (0.8260, 0.27), (0.8016, 0.26), (0.7875, 0.25), (0.8519, 0.20), (0.8300, 0.20), (0.8191, 0.19),
    (0.8243, 0.18), (0.8243, 0.14), (0.8146, 0.16), (0.8063, 0.12), (0.8095, 0.14), (0.7455, 0.19),
    (0.7386, 0.16), (0.7333, 0.21), (0.7278, 0.13),
    (0.6234, 0.05), (0.6270, 0.03), (0.6295, 0.03), (0.6310, 0.02), (0.6325, 0.04), (0.6340, 0.01),
    (0.6355, 0.03), (0.6370, 0.02), (0.6385, 0.04), (0.6400, 0.01), (0.6415, 0.03), (0.6430, 0.05),
    (0.6445, 0.02), (0.6460, 0.04), (0.6475, 0.01), (0.6490, 0.03), (0.6505, 0.05), (0.6520, 0.02),
    (0.6535, 0.04), (0.6550, 0.07), (0.6565, 0.03), (0.6580, 0.05), (0.6595, 0.02), (0.6610, 0.09),
    (0.6625, 0.04), (0.6640, 0.06), (0.6655, 0.03), (0.6670, 0.05), (0.6685, 0.08), (0.6700, 0.02),
    (0.6715, 0.05), (0.6730, 0.03), (0.6745, 0.06), (0.6760, 0.04), (0.6775, 0.07), (0.6790, 0.02),
    (0.6805, 0.05), (0.6820, 0.03), (0.6835, 0.10), (0.6850, 0.04), (0.6865, 0.06), (0.6880, 0.03),
    (0.6895, 0.07), (0.6910, 0.05), (0.6925, 0.08), (0.6940, 0.03), (0.6955, 0.06), (0.6970, 0.04),
    (0.6985, 0.09), (0.7000, 0.05), (0.7015, 0.12), (0.7030, 0.06), (0.7045, 0.08), (0.7060, 0.04),
    (0.7075, 0.10), (0.7090, 0.06), (0.7105, 0.14), (0.7120, 0.07), (0.7135, 0.05), (0.7150, 0.09),
    (0.7165, 0.13), (0.7180, 0.06), (0.7195, 0.10), (0.7210, 0.08), (0.7225, 0.12), (0.7240, 0.05),
    (0.7255, 0.09), (0.7270, 0.11), (0.7285, 0.07), (0.7300, 0.10), (0.7315, 0.05), (0.7330, 0.08),
    (0.7345, 0.12), (0.7360, 0.06), (0.7375, 0.10), (0.7390, 0.14), (0.7405, 0.08), (0.7420, 0.11),
    (0.7435, 0.06), (0.7450, 0.13), (0.7465, 0.09), (0.7480, 0.11), (0.7495, 0.15), (0.7510, 0.08),
    (0.7525, 0.12), (0.7540, 0.10), (0.7555, 0.14), (0.7570, 0.09), (0.7585, 0.12), (0.7600, 0.07),
    (0.7615, 0.15), (0.7630, 0.11), (0.7645, 0.08), (0.7660, 0.16), (0.7675, 0.12), (0.7690, 0.10),
    (0.7705, 0.18), (0.7720, 0.13), (0.7735, 0.09), (0.7750, 0.15), (0.7765, 0.20), (0.7780, 0.12),
    (0.7795, 0.17), (0.7810, 0.22), (0.7825, 0.14), (0.7840, 0.19), (0.7855, 0.11), (0.7870, 0.24),
    (0.7885, 0.16), (0.7900, 0.21), (0.7915, 0.13), (0.7930, 0.26), (0.7945, 0.18), (0.7960, 0.23),
    (0.7975, 0.15), (0.7990, 0.28), (0.8005, 0.20), (0.8020, 0.12), (0.8035, 0.25), (0.8050, 0.17),
    (0.8065, 0.30), (0.8080, 0.21), (0.8095, 0.26), (0.8110, 0.15), (0.8125, 0.33), (0.8140, 0.23),
    (0.8155, 0.19), (0.8170, 0.35), (0.8185, 0.27), (0.8200, 0.22), (0.8215, 0.38), (0.8230, 0.30),
    (0.8245, 0.25), (0.8260, 0.41), (0.8275, 0.28), (0.8290, 0.36), (0.8310, 0.24), (0.8325, 0.33),
    (0.8340, 0.40), (0.8360, 0.30), (0.8380, 0.45),
]

# Pythia-410M: performance takes discrete values, one column each
pythia410_cols = [
    (0.5547, [0.015]),
    (0.5625, [0.01, 0.02]),
    (0.5703, [0.00, 0.02, 0.05]),
    (0.5781, [0.01, 0.03, 0.05]),
    (0.5859, [0.01]),
    (0.5938, [0.01, 0.02, 0.04]),
    (0.6016, [0.00, 0.02, 0.05, 0.17]),
    (0.6094, [0.00, 0.01, 0.03]),
    (0.6172, [0.00, 0.02, 0.04, 0.06, 0.11]),
    (0.6250, [0.00, 0.02, 0.04, 0.07, 0.10]),
    (0.6328, [0.00, 0.01, 0.03, 0.04, 0.06]),
    (0.6406, [0.00, 0.02, 0.04, 0.06, 0.08, 0.135]),
    (0.6484, [0.00, 0.02, 0.03, 0.05, 0.07]),
    (0.6563, [0.00, 0.02, 0.04, 0.06, 0.08, 0.10, 0.13, 0.22]),
    (0.6641, [0.00, 0.01, 0.03, 0.05, 0.07, 0.09, 0.11, 0.13, 0.23]),
    (0.6719, [0.00, 0.02, 0.04, 0.06, 0.08, 0.10, 0.12, 0.14, 0.16, 0.18, 0.20]),
    (0.6797, [0.00, 0.02, 0.04, 0.06, 0.08, 0.10, 0.12, 0.15, 0.18, 0.20, 0.22]),
    (0.6875, [0.00, 0.02, 0.04, 0.06, 0.08, 0.10, 0.12, 0.14, 0.17, 0.19, 0.21, 0.27]),
    (0.6953, [0.00, 0.02, 0.04, 0.06, 0.08, 0.11, 0.13, 0.15, 0.18, 0.20, 0.22, 0.25]),
    (0.7031, [0.00, 0.02, 0.04, 0.06, 0.08, 0.10, 0.12, 0.14, 0.16, 0.18, 0.20, 0.22, 0.24]),
    (0.7109, [0.00, 0.02, 0.04, 0.06, 0.08, 0.10, 0.12, 0.14, 0.16, 0.18, 0.21, 0.26]),
    (0.7188, [0.00, 0.02, 0.04, 0.06, 0.08, 0.10, 0.12, 0.14, 0.16, 0.19, 0.21, 0.36]),
    (0.7266, [0.00, 0.02, 0.04, 0.06, 0.08, 0.10, 0.12, 0.14, 0.16, 0.18, 0.20, 0.22, 0.24, 0.27]),
    (0.7344, [0.00, 0.02, 0.04, 0.06, 0.08, 0.10, 0.12, 0.14, 0.16, 0.18, 0.20, 0.22, 0.24, 0.30]),
    (0.7422, [0.00, 0.02, 0.04, 0.06, 0.08, 0.10, 0.12, 0.14, 0.16, 0.18, 0.20, 0.22, 0.24, 0.32]),
    (0.7500, [0.00, 0.02, 0.04, 0.06, 0.08, 0.10, 0.12, 0.14, 0.16, 0.18, 0.20, 0.22, 0.25, 0.27, 0.32, 0.355]),
    (0.7578, [0.00, 0.02, 0.04, 0.06, 0.08, 0.10, 0.12, 0.14, 0.16, 0.18, 0.20, 0.22, 0.24, 0.26]),
    (0.7656, [0.01, 0.03, 0.05, 0.07, 0.09, 0.11, 0.13, 0.15, 0.17, 0.19, 0.21, 0.23, 0.26, 0.42]),
    (0.7734, [0.02, 0.05, 0.08, 0.10, 0.13, 0.15, 0.18, 0.20, 0.23, 0.25, 0.28, 0.30, 0.34, 0.46, 0.70, 1.06]),
    (0.7813, [0.02, 0.05, 0.07, 0.10, 0.12, 0.15, 0.18, 0.20, 0.23, 0.26, 0.28, 0.31, 0.34, 0.41]),
    (0.7891, [0.02, 0.05, 0.08, 0.11, 0.14, 0.17, 0.20, 0.23, 0.26, 0.29, 0.32, 0.35, 0.38, 0.43, 0.47]),
    (0.7969, [0.02, 0.05, 0.08, 0.11, 0.14, 0.17, 0.20, 0.23, 0.26, 0.29, 0.31, 0.41, 0.57, 2.35]),
    (0.8047, [0.03, 0.06, 0.09, 0.13, 0.16, 0.20, 0.24, 0.28, 0.31, 0.35, 0.38, 0.42, 0.49, 0.93]),
    (0.8125, [0.08, 0.12, 0.16, 0.20, 0.25, 0.29, 0.33, 0.37, 0.42, 0.62]),
    (0.8203, [0.04, 0.08, 0.12, 0.17, 0.21, 0.26, 0.30, 0.34, 0.38, 0.42, 0.49, 0.59, 0.63]),
    (0.8281, [0.10, 0.14, 0.18, 0.22, 0.26, 0.30, 0.34, 0.37, 0.41, 0.44, 0.56, 0.65, 0.73]),
    (0.8359, [0.07, 0.32, 0.34, 0.36, 0.68, 1.57]),
    (0.8438, [0.32, 0.34, 0.38, 0.42, 0.46, 0.50, 0.53, 0.56, 0.60, 0.63, 0.66]),
    (0.8516, [0.32, 0.36, 0.40, 0.44, 0.48, 0.52, 0.56, 0.60, 0.79, 0.86, 1.42]),
    (0.8594, [0.47, 0.50, 0.53, 0.55, 0.58, 0.90, 1.17, 1.47]),
    (0.8672, [0.34, 0.44, 0.64, 0.76, 0.84, 1.83]),
    (0.8750, [0.40, 0.44, 0.47, 0.52, 0.57, 0.61, 0.66, 0.81, 0.93, 1.00, 1.10]),
    (0.8828, [0.49, 0.75, 0.84, 0.97, 1.01, 1.33]),
    (0.8906, [1.27]),
    (0.8984, [0.71, 0.80, 0.82]),
]
pythia410_pts = [(x, y) for x, ys in pythia410_cols for y in ys]

all_pts = [bert_pts, albert_pts, distil_pts, roberta_pts,
           gpt2_pts, pythia70_pts, pythia160_pts, pythia410_pts]

fig, axes = plt.subplots(2, 4, figsize=(48, 17))
fig.subplots_adjust(hspace=0.35)

for ax, title, pts, thr in zip(axes.flat, titles, all_pts, thresholds):
    xs = [p[0] for p in pts]
    ys = [p[1] for p in pts]
    ax.grid(True, color='#ededed', linewidth=1.0)
    ax.set_axisbelow(True)
    ax.scatter(xs, ys, s=38, c='black', alpha=0.75, linewidths=0)
    ax.axhline(thr, color='red', linestyle=(0, (4.8, 2)), linewidth=3)
    ax.set_title(title, fontsize=39)
    ax.set_xlabel('Performance', fontsize=33)
    ax.tick_params(labelsize=27)

axes[0, 0].set_ylabel('Variance', fontsize=33)
axes[1, 0].set_ylabel('Variance', fontsize=33)

fig.savefig('out.png', dpi=100)
